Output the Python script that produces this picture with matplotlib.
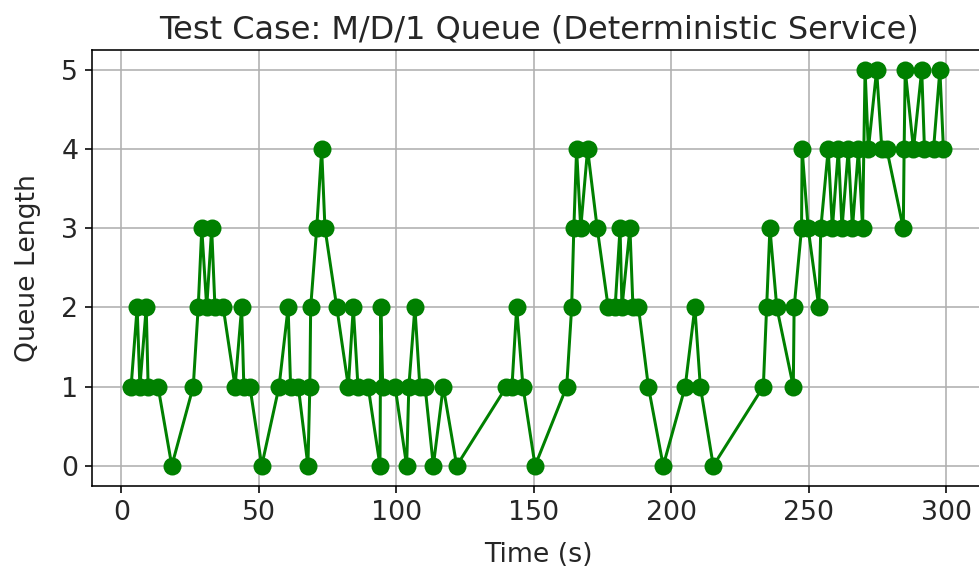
import matplotlib
matplotlib.use("Agg")
import matplotlib.pyplot as plt

# event times (s) and queue length after each event
times = [3.5, 5.7, 6.7, 9.0, 9.7, 13.3, 18.3, 26.1, 27.9, 29.2, 31.0, 32.8,
         34.0, 37.0, 41.3, 43.7, 44.5, 46.7, 51.0, 57.3, 60.6, 61.5, 64.3,
         67.8, 68.5, 68.8, 71.0, 72.8, 74.0, 78.3, 82.5, 84.3, 86.0, 89.7,
         94.0, 94.3, 95.0, 99.5, 103.7, 104.5, 106.7, 108.5, 110.4, 113.4,
         117.0, 121.9, 140.0, 142.0, 143.7, 146.0, 150.4, 161.9, 163.7,
         164.5, 165.5, 167.0, 169.5, 173.0, 177.0, 179.5, 181.3, 182.0,
         184.9, 186.0, 188.0, 191.6, 197.0, 205.0, 208.5, 210.5, 215.2,
         233.4, 234.6, 235.8, 238.3, 244.3, 244.6, 247.3, 247.5, 249.7,
         253.6, 254.3, 257.0, 258.5, 260.7, 262.0, 264.3, 265.8, 268.0,
         269.5, 270.4, 271.6, 274.6, 276.5, 278.3, 284.3, 284.6, 285.0,
         288.0, 291.0, 292.0, 295.3, 297.6, 298.9]
queue = [1, 2, 1, 2, 1, 1, 0, 1, 2, 3, 2, 3,
         2, 2, 1, 2, 1, 1, 0, 1, 2, 1, 1,
         0, 1, 2, 3, 4, 3, 2, 1, 2, 1, 1,
         0, 2, 1, 1, 0, 1, 2, 1, 1, 0,
         1, 0, 1, 1, 2, 1, 0, 1, 2,
         3, 4, 3, 4, 3, 2, 2, 3, 2,
         3, 2, 2, 1, 0, 1, 2, 1, 0,
         1, 2, 3, 2, 1, 2, 3, 4, 3,
         2, 3, 4, 3, 4, 3, 4, 3, 4,
         3, 5, 4, 5, 4, 4, 3, 4, 5,
         4, 5, 4, 4, 5, 4]

plt.rcParams['font.size'] = 13.4
plt.rcParams['text.color'] = '#262626'
plt.rcParams['axes.labelcolor'] = '#262626'
plt.rcParams['xtick.labelcolor'] = '#262626'
plt.rcParams['ytick.labelcolor'] = '#262626'

fig = plt.figure(figsize=(979 / 144, 569 / 144), dpi=144)
ax = fig.add_axes([0.0943, 0.1467, 0.9118, 0.765])

ax.plot(times, queue, marker='o', color='green', markersize=8)
ax.set_xlim(-10.6, 314)
ax.set_ylim(-0.25, 5.25)
ax.set_title('Test Case: M/D/1 Queue (Deterministic Service)', fontsize=16)
ax.set_xlabel('Time (s)', labelpad=8)
ax.set_ylabel('Queue Length', labelpad=10)
ax.grid(True)

fig.savefig('out.png', dpi=144)
